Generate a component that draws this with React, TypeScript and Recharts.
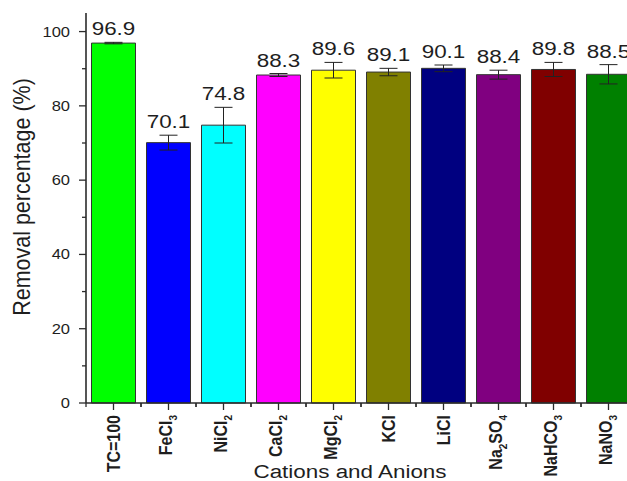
import React from 'react';
import { BarChart, Bar, XAxis, YAxis, Cell, ErrorBar, LabelList, Label } from 'recharts';

// Removal efficiency of TC in the presence of co-existing cations and anions
const categories = ['TC=100', 'FeCl3', 'NiCl2', 'CaCl2', 'MgCl2', 'KCl', 'LiCl', 'Na2SO4', 'NaHCO3', 'NaNO3'];
const removal = [96.9, 70.1, 74.8, 88.3, 89.6, 89.1, 90.1, 88.4, 89.8, 88.5];
const removalError = [0.2, 2.0, 4.8, 0.4, 2.1, 1.0, 0.9, 1.2, 1.9, 2.6];
const barColors = ['#00ff00', '#0000ff', '#00ffff', '#ff00ff', '#ffff00', '#808000', '#000080', '#800080', '#800000', '#008000'];
const yTicks = [0, 10, 20, 30, 40, 50, 60, 70, 80, 90, 100];
const yTitle = 'Removal percentage (%)';
const xTitle = 'Cations and Anions';

const data = categories.map((name, i) => ({ name, removal: removal[i], err: removalError[i] }));

const FONT = '"Liberation Sans", Arial, Helvetica, sans-serif';
const AXIS = '#2b2b2b';
const TEXT = '#1e1e1e';
const STRETCH = 1.18;

const CHART_W = 640;
const CHART_H = 481;
const MARGIN = { top: 13, right: 4, left: 0, bottom: 0 };
const Y_AXIS_W = 86;
const X_AXIS_H = 78;
const Y_TICK = 7;
const Y_TICK_MARGIN = 9;
const X_TICK = 7;
const X_TICK_MARGIN = 5;
const HALF_BAND = (CHART_W - MARGIN.left - MARGIN.right - Y_AXIS_W) / categories.length / 2;

// split a formula into plain runs and subscript digits (digits directly after a letter)
function formulaParts(name: string) {
  const parts: { text: string; sub: boolean }[] = [];
  for (let i = 0; i < name.length; i++) {
    const ch = name[i];
    const sub = /\d/.test(ch) && i > 0 && /[A-Za-z]/.test(name[i - 1]);
    const last = parts[parts.length - 1];
    if (last && last.sub === sub && !sub) last.text += ch;
    else parts.push({ text: ch, sub });
  }
  return parts;
}

function renderYTick(props: any) {
  const { x, y, payload } = props;
  const axisX = x + Y_TICK + Y_TICK_MARGIN;
  const major = payload.value % 20 === 0;
  return (
    <g>
      <line x1={axisX} x2={axisX - (major ? 7 : 4)} y1={y} y2={y} stroke={AXIS} strokeWidth={1.3} />
      {major && (
        <g transform={`translate(${x},${y}) scale(${STRETCH},1)`}>
          <text x={0} y={0} textAnchor="end" dominantBaseline="central" fontFamily={FONT} fontSize={14} fill={TEXT}>
            {payload.value}
          </text>
        </g>
      )}
    </g>
  );
}

function renderXTick(props: any) {
  const { x, y, payload } = props;
  const axisY = y - X_TICK - X_TICK_MARGIN;
  const half = payload && payload.offset > 0 ? payload.offset : HALF_BAND;
  const parts = formulaParts(String(payload.value));
  const hasSub = parts.some((p) => p.sub);
  const fs = 16;
  const baseline = (0.716 * fs) / 2 - (hasSub ? 2.5 : 0);
  let shifted = false;
  return (
    <g>
      <line x1={x} x2={x} y1={axisY} y2={axisY + 7} stroke={AXIS} strokeWidth={1.3} />
      <line x1={x - half} x2={x - half} y1={axisY} y2={axisY + 4} stroke={AXIS} strokeWidth={1.3} />
      <line x1={x + half} x2={x + half} y1={axisY} y2={axisY + 4} stroke={AXIS} strokeWidth={1.3} />
      <g transform={`translate(${x},${y}) scale(${STRETCH},1) rotate(-90)`}>
        <text x={0} y={baseline} textAnchor="end" fontFamily={FONT} fontWeight="bold" fontSize={fs} fill={TEXT}>
          {parts.map((p, i) => {
            let dy = 0;
            if (p.sub && !shifted) { dy = 4; shifted = true; }
            else if (!p.sub && shifted) { dy = -4; shifted = false; }
            return (
              <tspan key={i} dy={dy} fontSize={p.sub ? 10 : fs}>
                {p.text}
              </tspan>
            );
          })}
        </text>
      </g>
    </g>
  );
}

function renderValueLabel(props: any) {
  const { x, y, width, height, value, index } = props;
  const pxPerUnit = height / value;
  const errTop = y - removalError[index] * pxPerUnit;
  const cx = x + width / 2;
  const by = errTop - 7;
  return (
    <g transform={`translate(${cx},${by}) scale(${STRETCH},1)`}>
      <text x={0} y={0} textAnchor="middle" fontFamily={FONT} fontSize={19} fill={TEXT}>
        {Number(value).toFixed(1)}
      </text>
    </g>
  );
}

function renderYTitle(props: any) {
  const vb = props.viewBox || { x: 0, y: MARGIN.top, width: Y_AXIS_W, height: CHART_H - X_AXIS_H - MARGIN.top };
  const cx = vb.x + 22;
  const cy = vb.y + vb.height / 2 - 11;
  return (
    <g transform={`translate(${cx},${cy}) scale(1.08,1) rotate(-90)`}>
      <text x={0} y={0} textAnchor="middle" dominantBaseline="central" fontFamily={FONT} fontSize={21.5} fill={TEXT}>
        {yTitle}
      </text>
    </g>
  );
}

function renderXTitle(props: any) {
  const vb = props.viewBox || { x: Y_AXIS_W, y: CHART_H - X_AXIS_H, width: 550, height: X_AXIS_H };
  const cx = vb.x + vb.width / 2 - 11;
  const by = vb.y + 75;
  return (
    <g transform={`translate(${cx},${by}) scale(${STRETCH},1)`}>
      <text x={0} y={0} textAnchor="middle" fontFamily={FONT} fontSize={19} fill={TEXT}>
        {xTitle}
      </text>
    </g>
  );
}

export default function App() {
  return (
    <div style={{ position: 'fixed', left: 0, top: 0, width: 627, height: 481, overflow: 'hidden', background: '#ffffff' }}>
      <BarChart width={CHART_W} height={CHART_H} data={data} margin={MARGIN} barCategoryGap="10%">
        <XAxis
          dataKey="name"
          height={X_AXIS_H}
          interval={0}
          tickSize={X_TICK}
          tickMargin={X_TICK_MARGIN}
          tickLine={false}
          tick={renderXTick}
          axisLine={{ stroke: AXIS, strokeWidth: 1.6 }}
        >
          <Label content={renderXTitle} />
        </XAxis>
        <XAxis
          xAxisId="top"
          orientation="top"
          dataKey="name"
          height={0}
          tick={false}
          tickLine={false}
          axisLine={{ stroke: AXIS, strokeWidth: 1.6 }}
        />
        <YAxis
          width={Y_AXIS_W}
          domain={[0, 105]}
          ticks={yTicks}
          interval={0}
          tickSize={Y_TICK}
          tickMargin={Y_TICK_MARGIN}
          tickLine={false}
          tick={renderYTick}
          axisLine={{ stroke: AXIS, strokeWidth: 1.6 }}
        >
          <Label content={renderYTitle} />
        </YAxis>
        <Bar dataKey="removal" stroke="#333333" strokeWidth={1} isAnimationActive={false}>
          {data.map((d, i) => (
            <Cell key={d.name} fill={barColors[i]} />
          ))}
          <ErrorBar dataKey="err" width={9} stroke="#222222" strokeWidth={1} isAnimationActive={false} />
          <LabelList dataKey="removal" content={renderValueLabel} />
        </Bar>
      </BarChart>
    </div>
  );
}
